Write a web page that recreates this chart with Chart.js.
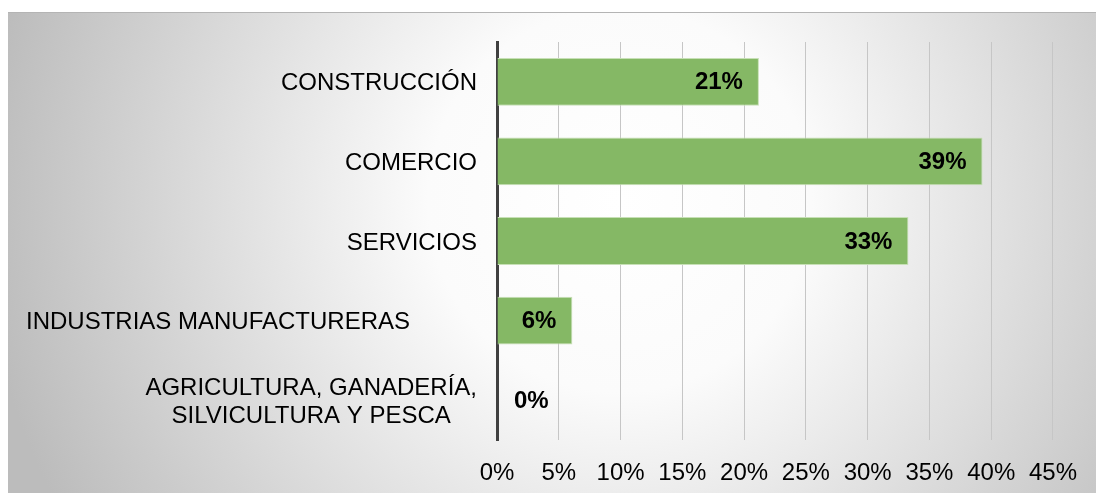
<!DOCTYPE html>
<html>
<head>
<meta charset="utf-8">
<script src="https://cdn.jsdelivr.net/npm/chart.js@4"></script>
<style>
  html, body { margin: 0; padding: 0; background: #fff; }
  #sectorChart { display: block; }
</style>
</head>
<body>
<canvas id="sectorChart" width="1096" height="493"></canvas>
<script>
const categories = [
  "CONSTRUCCIÓN",
  "COMERCIO",
  "SERVICIOS",
  "INDUSTRIAS MANUFACTURERAS",
  ["AGRICULTURA, GANADERÍA,", "SILVICULTURA Y PESCA"],
];
const shares = [21.2, 39.3, 33.3, 6.1, 0];
const tickValues = [0, 5, 10, 15, 20, 25, 30, 35, 40, 45];

const FONT = "'Liberation Sans', Arial, sans-serif";

// grey radial backdrop like the office chart area
const backdrop = {
  id: "backdrop",
  beforeDraw(chart) {
    const c = chart.ctx;
    c.save();
    c.fillStyle = "#ffffff";
    c.fillRect(0, 0, chart.width, chart.height);
    const g = c.createRadialGradient(620, 200, 0, 620, 200, 640);
    g.addColorStop(0, "#ffffff");
    g.addColorStop(0.3, "#fbfbfb");
    g.addColorStop(1, "#bcbcbc");
    c.fillStyle = g;
    c.fillRect(8, 12, chart.width - 8, chart.height - 12);
    c.fillStyle = "#b4b4b4";
    c.fillRect(8, 12, chart.width - 8, 1);
    c.restore();
  },
};

// category names, right aligned; wrapped ones centred line by line
const categoryLabels = {
  id: "categoryLabels",
  afterDraw(chart) {
    const c = chart.ctx;
    const y = chart.scales.y;
    const right = chart.chartArea.left - 20;
    const shift = { 3: 67 };
    c.save();
    c.font = "24px " + FONT;
    c.fillStyle = "#000";
    c.textAlign = "center";
    c.textBaseline = "middle";
    categories.forEach((lab, i) => {
      const lines = Array.isArray(lab) ? lab : [lab];
      const w = Math.max(...lines.map((l) => c.measureText(l).width));
      const cx = right - (shift[i] || 0) - w / 2;
      const lh = 28;
      const y0 = y.getPixelForValue(i) + 2 - ((lines.length - 1) * lh) / 2;
      lines.forEach((l, k) => c.fillText(l, cx, y0 + k * lh));
    });
    c.restore();
  },
};

// value labels inside the bar end
const valueLabels = {
  id: "valueLabels",
  afterDatasetsDraw(chart) {
    const c = chart.ctx;
    const meta = chart.getDatasetMeta(0);
    c.save();
    c.font = "bold 24px " + FONT;
    c.fillStyle = "#000";
    c.textBaseline = "middle";
    meta.data.forEach((bar, i) => {
      const txt = Math.round(shares[i]) + "%";
      const w = c.measureText(txt).width;
      if (bar.x - bar.base > w + 32) {
        c.textAlign = "right";
        c.fillText(txt, bar.x - 16, bar.y + 1);
      } else {
        c.textAlign = "left";
        c.fillText(txt, bar.base + 17, bar.y + 1);
      }
    });
    c.restore();
  },
};

new Chart(document.getElementById("sectorChart"), {
  type: "bar",
  data: {
    labels: categories,
    datasets: [
      {
        data: shares,
        backgroundColor: "#85b865",
        borderColor: "#c7e0b6",
        borderWidth: 1,
        borderSkipped: "left",
        categoryPercentage: 1,
        barPercentage: 0.6,
      },
    ],
  },
  options: {
    indexAxis: "y",
    responsive: false,
    animation: false,
    layout: { padding: { left: 0, right: 40, top: 42, bottom: 0 } },
    scales: {
      x: {
        min: 0,
        max: 45,
        afterBuildTicks: (scale) => {
          scale.ticks = tickValues.map((v) => ({ value: v }));
        },
        afterFit: (scale) => {
          scale.height = 53;
        },
        border: { display: false },
        grid: {
          drawTicks: false,
          lineWidth: 1,
          color: (ctx) => (ctx.tick && ctx.tick.value === 0 ? "rgba(0,0,0,0)" : "#c6c6c6"),
        },
        ticks: {
          padding: 19,
          color: "#000",
          font: { family: FONT, size: 24 },
          callback: (v) => v + "%",
        },
      },
      y: {
        afterFit: (scale) => {
          scale.width = 497;
        },
        border: { display: true, color: "#404040", width: 3 },
        grid: { display: false },
        ticks: { display: false },
      },
    },
    plugins: {
      legend: { display: false },
      tooltip: { enabled: false },
    },
  },
  plugins: [backdrop, categoryLabels, valueLabels],
});
</script>
</body>
</html>
